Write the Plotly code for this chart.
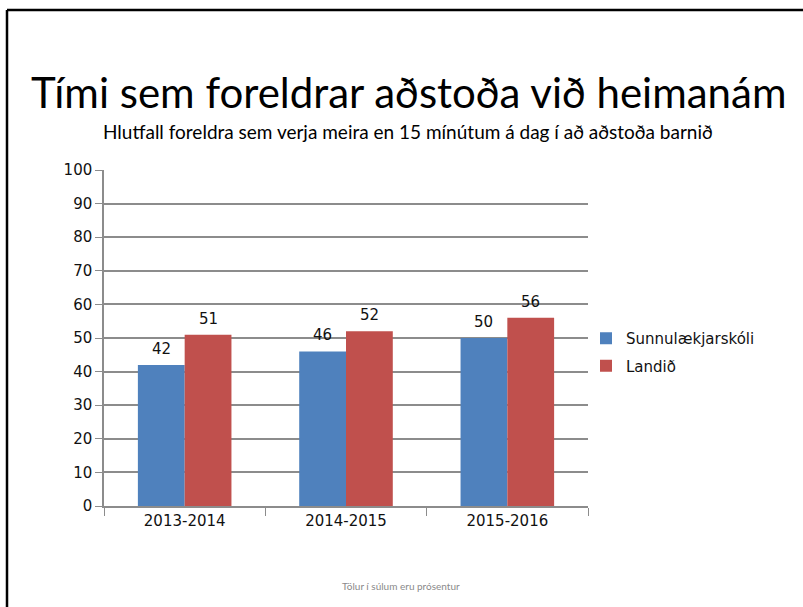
import plotly.graph_objects as go

# Data
categories = ["2013-2014", "2014-2015", "2015-2016"]
school = [42, 46, 50]
national = [51, 52, 56]
series_names = ["Sunnulækjarskóli", "Landið"]
y_ticks = list(range(0, 101, 10))

BLUE = "#4F81BD"
RED = "#C0504D"
GRID = "#8C8C8C"

W, H = 803, 607
margin = dict(l=104, r=215, t=170, b=101)
plot_w = W - margin["l"] - margin["r"]
bargap = 0.42

fig = go.Figure()
fig.add_bar(name=series_names[0], x=categories, y=school, marker_color=BLUE,
            marker_line_width=0, legendgroup="a")
fig.add_bar(name=series_names[1], x=categories, y=national, marker_color=RED,
            marker_line_width=0, legendgroup="b")

# value labels above each bar
cat_w = plot_w / len(categories)
bar_w = cat_w * (1 - bargap) / 2
for vals, sign in ((school, -1), (national, 1)):
    for c, v in zip(categories, vals):
        fig.add_annotation(x=c, y=v, text=str(v), showarrow=False,
                           xshift=sign * bar_w / 2, yshift=16,
                           font=dict(family="DejaVu Sans", size=15, color="#111"))

# title, subtitle, footnote
def px_to_paper_y(py):
    return (H - margin["b"] - py) / (H - margin["t"] - margin["b"])

def px_to_paper_x(px):
    return (px - margin["l"]) / plot_w

fig.add_annotation(xref="paper", yref="paper", x=px_to_paper_x(408), y=px_to_paper_y(92),
                   text="Tími sem foreldrar aðstoða við heimanám", showarrow=False,
                   xanchor="center", yanchor="middle",
                   font=dict(family="Lato", size=42, color="#000"))
fig.add_annotation(xref="paper", yref="paper", x=px_to_paper_x(408), y=px_to_paper_y(131),
                   text="Hlutfall foreldra sem verja meira en 15 mínútum á dag í að aðstoða barnið",
                   showarrow=False, xanchor="center", yanchor="middle",
                   font=dict(family="Lato", size=19, color="#000"))
fig.add_annotation(xref="paper", yref="paper", x=px_to_paper_x(401), y=px_to_paper_y(586),
                   text="Tölur í súlum eru prósentur", showarrow=False,
                   xanchor="center", yanchor="middle",
                   font=dict(family="Lato", size=10, color="#8A8A8A"))

# slide frame (top and left edges)
fig.add_shape(type="line", xref="paper", yref="paper",
              x0=px_to_paper_x(7), x1=px_to_paper_x(W + 5),
              y0=px_to_paper_y(10), y1=px_to_paper_y(10),
              line=dict(color="#000", width=2.5))
fig.add_shape(type="line", xref="paper", yref="paper",
              x0=px_to_paper_x(7), x1=px_to_paper_x(7),
              y0=px_to_paper_y(10), y1=px_to_paper_y(H + 5),
              line=dict(color="#000", width=2.5))

fig.update_layout(
    width=W, height=H, margin=margin,
    paper_bgcolor="white", plot_bgcolor="white",
    barmode="group", bargap=bargap, bargroupgap=0,
    showlegend=True,
    legend=dict(x=px_to_paper_x(586), y=px_to_paper_y(322), xanchor="left", yanchor="top",
                font=dict(family="DejaVu Sans", size=15, color="#111"),
                itemwidth=30, tracegroupgap=5, bgcolor="rgba(0,0,0,0)"),
    xaxis=dict(showline=True, linecolor=GRID, linewidth=1.5,
               ticks="outside", tickson="boundaries", ticklen=8, tickcolor=GRID,
               tickfont=dict(family="DejaVu Sans", size=15, color="#111"),
               showgrid=False),
    yaxis=dict(range=[0, 100], tickvals=y_ticks, showline=True, linecolor=GRID,
               linewidth=1.5, ticks="outside", ticklen=7, tickcolor=GRID,
               gridcolor=GRID, gridwidth=1.5, zeroline=False,
               tickfont=dict(family="DejaVu Sans", size=15, color="#111")),
)

fig.write_html("out.html")
